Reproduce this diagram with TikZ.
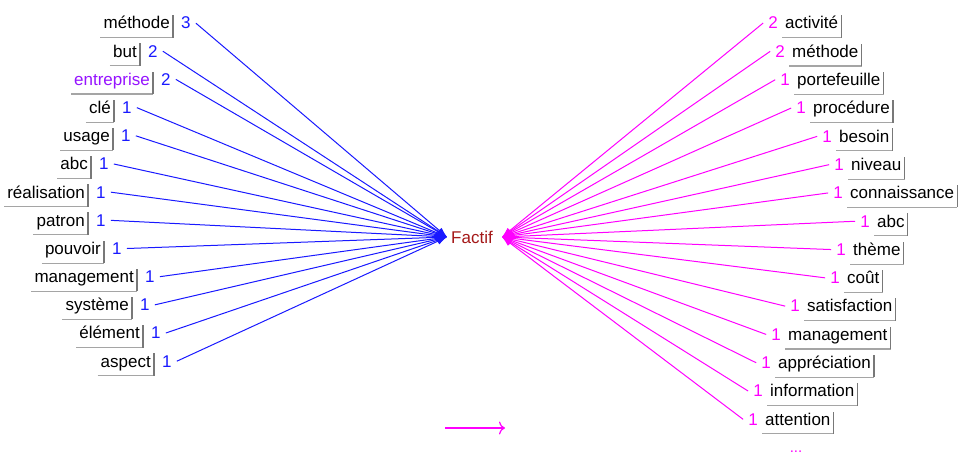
\documentclass[tikz,border=0pt]{standalone}
\usepackage{fontspec}
\setmainfont{Liberation Sans}
\usetikzlibrary{arrows.meta}
\definecolor{lblue}{RGB}{25,25,255}
\definecolor{lmag}{RGB}{255,0,255}
\definecolor{lpurp}{RGB}{150,20,255}
\definecolor{fred}{RGB}{165,25,25}
\definecolor{shlightc}{RGB}{165,165,165}
\definecolor{shdarkc}{RGB}{120,120,120}
\begin{document}
\begin{tikzpicture}[x=1pt,y=-1pt,
  font=\fontsize{17}{20}\selectfont,
  lbl/.style={inner xsep=3pt, inner ysep=1.5pt, text height=12pt, text depth=7pt},
  shlight/.style={draw=shlightc, line width=1.1pt},
  shdark/.style={draw=shdarkc, line width=1.1pt},
  numL/.style={inner xsep=5pt, inner ysep=0pt, text=lblue},
  numR/.style={inner xsep=5pt, inner ysep=0pt, text=lmag},
  edgeL/.style={draw=lblue, line width=1pt, -{Latex[length=10pt,width=7pt]}},
  edgeR/.style={draw=lmag, line width=1pt, {Latex[length=10pt,width=7pt]}-},
  hubtxt/.style={text=fred, inner sep=0pt},
]
\useasboundingbox (0,0) rectangle (961,454);
\fill[white] (0,0) rectangle (961,454);

\coordinate (hubL) at (447,237);
\coordinate (hubR) at (502,237);
\node[hubtxt, anchor=west] (F) at (451,237) {Factif};

\foreach \t/\n/\bx/\c [count=\i from 0] in {méthode/3/173/black, but/2/140/black, entreprise/2/153/lpurp, clé/1/114/black, usage/1/113/black, abc/1/91/black, réalisation/1/88/black, patron/1/88/black, pouvoir/1/104/black, management/1/137/black, système/1/132/black, élément/1/143/black, aspect/1/154/black} {
  \node[lbl, text=\c, anchor=east] (L\i) at (\bx, 26.5+28.17*\i) {\t};
  \draw[shlight] (L\i.south west) -- (L\i.south east);
  \draw[shdark] (L\i.south east) -- (L\i.north east);
  \node[numL, anchor=base west] (NL\i) at ([xshift=3pt]L\i.base east) {\n};
  \draw[edgeL] (NL\i.east) -- (hubL);
}

\foreach \t/\n/\bx [count=\i from 0] in {activité/2/782, méthode/2/789, portefeuille/1/794, procédure/1/810, besoin/1/836, niveau/1/848, connaissance/1/847, abc/1/874, thème/1/850, coût/1/844, satisfaction/1/804, management/1/785, appréciation/1/775, information/1/767, attention/1/762} {
  \node[lbl, anchor=west] (R\i) at (\bx, 26.5+28.3*\i) {\t};
  \draw[shlight] (R\i.south west) -- (R\i.south east);
  \draw[shdark] (R\i.south east) -- (R\i.north east);
  \node[numR, anchor=base east] (NR\i) at ([xshift=1pt]R\i.base west) {\n};
  \draw[edgeR] (hubR) -- (NR\i.west);
}

\coordinate (a1) at (445,428);
\coordinate (a2) at (505,428);
\draw[lmag, line width=1.2pt, -{To[length=6pt,width=13pt]}] (a1) -- (a2);
\node[text=lmag, anchor=base, inner sep=0pt, font=\fontsize{15}{16}\selectfont] (dots) at (796,452) {...};
\end{tikzpicture}
\end{document}
